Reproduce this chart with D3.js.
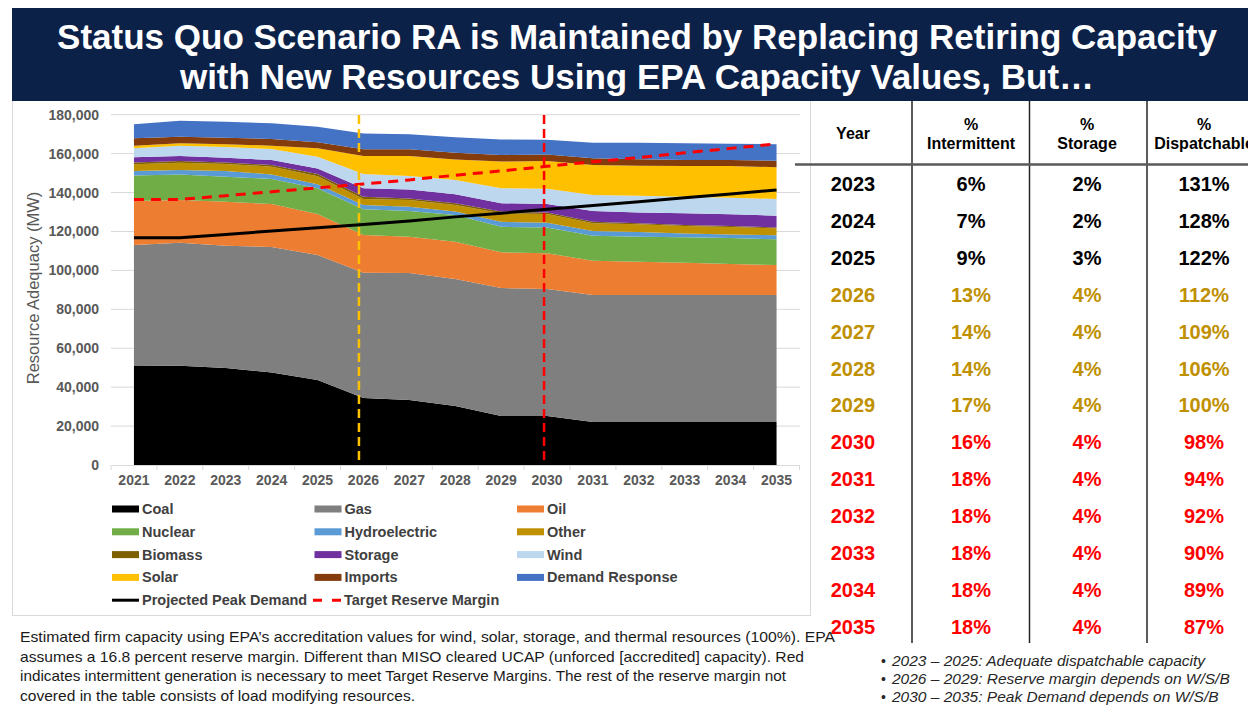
<!DOCTYPE html>
<meta charset="utf-8">
<head>
	<title>Status Quo Scenario RA</title>
	<script type="text/javascript" src="https://cdn.jsdelivr.net/npm/d3@7/dist/d3.min.js"></script>
	<style>
		body { margin: 0; background: #fff; }
		svg text { font-family: "Liberation Sans", Arial, sans-serif; }
		.tick text { fill: #595959; font-weight: bold; font-size: 14px; }
	</style>
</head>
<body>
<div id="slide"></div>
<script>
	// chart data (MW)
	var years = [2021, 2022, 2023, 2024, 2025, 2026, 2027, 2028, 2029, 2030, 2031, 2032, 2033, 2034, 2035];
	var coal    = [50900, 51000, 49800, 47500, 43700, 34400, 33400, 30300, 25200, 25200, 22100, 22100, 22100, 22100, 22100];
	var gas     = [62100, 63200, 62900, 64500, 64200, 64400, 65200, 65300, 65700, 65200, 65200, 65200, 65200, 65200, 65200];
	var oil     = [22600, 22000, 22600, 22100, 21100, 19400, 18700, 19100, 18400, 18400, 17700, 17200, 16600, 16000, 15500];
	var nuclear = [13100, 13100, 12800, 12900, 13200, 13200, 13200, 13800, 13100, 13300, 12800, 12800, 13100, 13300, 13200];
	var hydro   = [2400, 2300, 3000, 2300, 2000, 2200, 2200, 1700, 2600, 2400, 2400, 2400, 2000, 1900, 2000];
	var other   = [3400, 3700, 3600, 4000, 4200, 3100, 3500, 3400, 4300, 4500, 4000, 4000, 3800, 3800, 3600];
	var biomass = [1000, 900, 800, 800, 1100, 1200, 800, 900, 900, 800, 800, 500, 500, 500, 500];
	var storage = [2600, 2600, 2400, 2600, 2900, 4300, 4600, 4600, 4300, 4300, 5500, 5600, 6000, 6000, 6000];
	var wind    = [4600, 5300, 5500, 5700, 6000, 7300, 6900, 7300, 7700, 7900, 8200, 8600, 8600, 8500, 8600];
	var solar   = [1400, 1200, 1400, 1700, 4300, 9300, 10300, 10600, 13700, 14200, 15400, 15400, 15700, 16300, 16300];
	var imports = [3800, 3400, 3400, 3400, 3100, 3400, 3400, 3400, 3400, 3400, 3500, 3300, 3100, 3100, 3400];
	var demandResp = [7200, 8200, 8200, 8100, 8000, 8200, 7700, 8000, 8000, 7500, 8000, 8500, 8600, 8400, 8400];
	var peakDemand = [116800, 116800, 118500, 120200, 121900, 123600, 125400, 127500, 129400, 131400, 133400, 135300, 137300, 139300, 141300];
	var reserveMargin = [136400, 136400, 138400, 140400, 142400, 144400, 146500, 148900, 151100, 153500, 155800, 158000, 160400, 162700, 165000];
	var yTicks = [0, 20000, 40000, 60000, 80000, 100000, 120000, 140000, 160000, 180000];

	var seriesNames = ["Coal", "Gas", "Oil", "Nuclear", "Hydroelectric", "Other", "Biomass", "Storage", "Wind", "Solar", "Imports", "Demand Response"];
	var seriesData = [coal, gas, oil, nuclear, hydro, other, biomass, storage, wind, solar, imports, demandResp];
	var seriesColors = ["#000000", "#7f7f7f", "#ed7d31", "#70ad47", "#5b9bd5", "#bf9000", "#7f6000", "#7030a0", "#bdd7ee", "#ffc000", "#843c0c", "#4472c4"];

	// table data
	var tableYears = [2023, 2024, 2025, 2026, 2027, 2028, 2029, 2030, 2031, 2032, 2033, 2034, 2035];
	var pctIntermittent = [6, 7, 9, 13, 14, 14, 17, 16, 18, 18, 18, 18, 18];
	var pctStorage = [2, 2, 3, 4, 4, 4, 4, 4, 4, 4, 4, 4, 4];
	var pctDispatchable = [131, 128, 122, 112, 109, 106, 100, 98, 94, 92, 90, 89, 87];

	var titleLines = ["Status Quo Scenario RA is Maintained by Replacing Retiring Capacity",
		"with New Resources Using EPA Capacity Values, But\u2026"];
	var footLines = ["Estimated firm capacity using EPA\u2019s accreditation values for wind, solar, storage, and thermal resources (100%). EPA",
		"assumes a 16.8 percent reserve margin. Different than MISO cleared UCAP (unforced [accredited] capacity).  Red",
		"indicates intermittent generation is necessary to meet Target Reserve Margins. The rest of the reserve margin not",
		"covered in the table consists of load modifying resources."];
	var footWidths = [815, 784, 766, 395];
	var bullets = ["2023 \u2013 2025: Adequate dispatchable capacity",
		"2026 \u2013 2029: Reserve margin depends on W/S/B",
		"2030 \u2013 2035: Peak Demand depends on W/S/B"];

	var w = 1248, h = 707;
	var svg = d3.select("#slide").append("svg").attr("width", w).attr("height", h);

	// chart frame
	svg.append("rect").attr("x", 12.5).attr("y", 100.5).attr("width", 798).attr("height", 515)
		.style("fill", "#fff").style("stroke", "#d9d9d9");

	// title banner
	svg.append("rect").attr("x", 12).attr("y", 8).attr("width", w - 12).attr("height", 93).style("fill", "#0c2148");
	svg.selectAll(".title").data(titleLines).enter().append("text")
		.attr("class", "title")
		.attr("x", 637).attr("y", function (d, i) { return 49 + i * 40; })
		.attr("text-anchor", "middle")
		.style("fill", "#fff").style("font-size", "35px").style("font-weight", "bold")
		.text(function (d) { return d; });

	// scales
	var x = d3.scaleBand().domain(years).range([111, 799.5]);
	var cx = function (yr) { return x(yr) + x.bandwidth() / 2; };
	var y = d3.scaleLinear().domain([0, 180000]).range([465, 114.7]);

	// gridlines
	svg.append("g").selectAll("line").data(yTicks.slice(1)).enter().append("line")
		.attr("x1", 111).attr("x2", 800)
		.attr("y1", function (d) { return y(d); }).attr("y2", function (d) { return y(d); })
		.style("stroke", "#d9d9d9");

	// stacked areas
	var rows = years.map(function (yr, i) {
		var r = { year: yr };
		seriesNames.forEach(function (n, k) { r[n] = seriesData[k][i]; });
		return r;
	});
	var stack = d3.stack().keys(seriesNames);
	var area = d3.area()
		.x(function (d) { return cx(d.data.year); })
		.y0(function (d) { return y(d[0]); })
		.y1(function (d) { return y(d[1]); });
	svg.append("g").selectAll("path").data(stack(rows)).enter().append("path")
		.attr("d", area)
		.style("fill", function (d, i) { return seriesColors[i]; });

	// axes
	var xAxis = d3.axisBottom(x).tickSize(0).tickPadding(10);
	var gX = svg.append("g").attr("transform", "translate(0,465)").call(xAxis);
	gX.select(".domain").style("stroke", "#d9d9d9");
	svg.append("g").selectAll("line").data(years.concat([2036])).enter().append("line")
		.attr("x1", function (d, i) { return 111 + i * x.bandwidth(); })
		.attr("x2", function (d, i) { return 111 + i * x.bandwidth(); })
		.attr("y1", 465).attr("y2", 470).style("stroke", "#d9d9d9");

	var yAxis = d3.axisLeft(y).tickValues(yTicks).tickSize(0).tickPadding(12).tickFormat(d3.format(","));
	var gY = svg.append("g").attr("transform", "translate(111,0)").call(yAxis);
	gY.select(".domain").remove();

	svg.append("text")
		.attr("transform", "translate(39,288) rotate(-90)")
		.attr("text-anchor", "middle")
		.style("fill", "#595959").style("font-size", "16.5px")
		.text("Resource Adequacy (MW)");

	// demand and reserve lines
	var line = d3.line().x(function (d, i) { return cx(years[i]); }).y(function (d) { return y(d); });
	svg.append("path").datum(peakDemand).attr("d", line)
		.style("fill", "none").style("stroke", "#000").style("stroke-width", 3);
	svg.append("path").datum(reserveMargin).attr("d", line)
		.style("fill", "none").style("stroke", "#ff0000").style("stroke-width", 3).style("stroke-dasharray", "10,7");

	// vertical markers
	svg.append("line").attr("x1", cx(2026) - 4.5).attr("x2", cx(2026) - 4.5).attr("y1", 115).attr("y2", 465)
		.style("stroke", "#ffc000").style("stroke-width", 2.5).style("stroke-dasharray", "9,5");
	svg.append("line").attr("x1", cx(2030) - 3).attr("x2", cx(2030) - 3).attr("y1", 115).attr("y2", 465)
		.style("stroke", "#ff0000").style("stroke-width", 2.5).style("stroke-dasharray", "9,5");

	// legend
	var legend = svg.append("g");
	seriesNames.forEach(function (n, i) {
		var col = i % 3, row = Math.floor(i / 3);
		var lx = 112 + col * 202.5, ly = 509 + row * 22.8;
		legend.append("rect").attr("x", lx).attr("y", ly - 3.5).attr("width", 27).attr("height", 7).style("fill", seriesColors[i]);
		legend.append("text").attr("x", lx + 30).attr("y", ly + 5).style("font-size", "14.5px").style("font-weight", "bold")
			.style("fill", "#404040").text(n);
	});
	var ly5 = 509 + 4 * 22.8;
	legend.append("line").attr("x1", 112).attr("x2", 139).attr("y1", ly5).attr("y2", ly5).style("stroke", "#000").style("stroke-width", 3);
	legend.append("text").attr("x", 142).attr("y", ly5 + 5).style("font-size", "14.5px").style("font-weight", "bold")
		.style("fill", "#404040").text("Projected Peak Demand");
	legend.append("line").attr("x1", 313).attr("x2", 341).attr("y1", ly5).attr("y2", ly5)
		.style("stroke", "#ff0000").style("stroke-width", 3).style("stroke-dasharray", "9,10");
	legend.append("text").attr("x", 344).attr("y", ly5 + 5).style("font-size", "14.5px").style("font-weight", "bold")
		.style("fill", "#404040").text("Target Reserve Margin");

	// table
	var colX = [853, 971, 1087, 1204];
	var table = svg.append("g");
	table.append("rect").attr("x", 812).attr("y", 101).attr("width", w - 812).attr("height", 545).style("fill", "#fff");
	[912, 1029.5, 1147].forEach(function (vx) {
		table.append("line").attr("x1", vx).attr("x2", vx).attr("y1", 101).attr("y2", 643)
			.style("stroke", "#262626").style("stroke-width", 1.5);
	});
	table.append("line").attr("x1", 795).attr("x2", w).attr("y1", 164.5).attr("y2", 164.5)
		.style("stroke", "#595959").style("stroke-width", 2.5);
	table.append("text").attr("x", colX[0]).attr("y", 139).attr("text-anchor", "middle")
		.style("font-size", "16px").style("font-weight", "bold").text("Year");
	["Intermittent", "Storage", "Dispatchable"].forEach(function (t, i) {
		var tx = table.append("text").attr("text-anchor", "middle").style("font-size", "16px").style("font-weight", "bold");
		tx.append("tspan").attr("x", colX[i + 1]).attr("y", 130).text("%");
		tx.append("tspan").attr("x", colX[i + 1]).attr("y", 149).text(t);
	});
	var rowColor = function (yr) { return yr <= 2025 ? "#000" : (yr <= 2029 ? "#bf9000" : "#ff0000"); };
	tableYears.forEach(function (yr, i) {
		var ry = 184 + i * 36.9 + 7;
		var cells = [yr, pctIntermittent[i] + "%", pctStorage[i] + "%", pctDispatchable[i] + "%"];
		cells.forEach(function (c, k) {
			table.append("text").attr("x", colX[k]).attr("y", ry).attr("text-anchor", "middle")
				.style("font-size", "20px").style("font-weight", "bold").style("fill", rowColor(yr)).text(c);
		});
	});

	// footnote
	svg.selectAll(".foot").data(footLines).enter().append("text")
		.attr("class", "foot")
		.attr("x", 20).attr("y", function (d, i) { return 642 + i * 19.7; })
		.attr("textLength", function (d, i) { return footWidths[i]; })
		.attr("lengthAdjust", "spacingAndGlyphs")
		.style("font-size", "15px").style("fill", "#1a1a1a")
		.text(function (d) { return d; });

	// bullets
	bullets.forEach(function (b, i) {
		var by = 666 + i * 18;
		svg.append("text").attr("x", 881).attr("y", by).style("font-size", "14px").style("fill", "#262626").text("\u2022");
		svg.append("text").attr("x", 892).attr("y", by).style("font-size", "15.5px").style("font-style", "italic")
			.style("fill", "#262626").text(b);
	});
</script>
</body>
</html>
